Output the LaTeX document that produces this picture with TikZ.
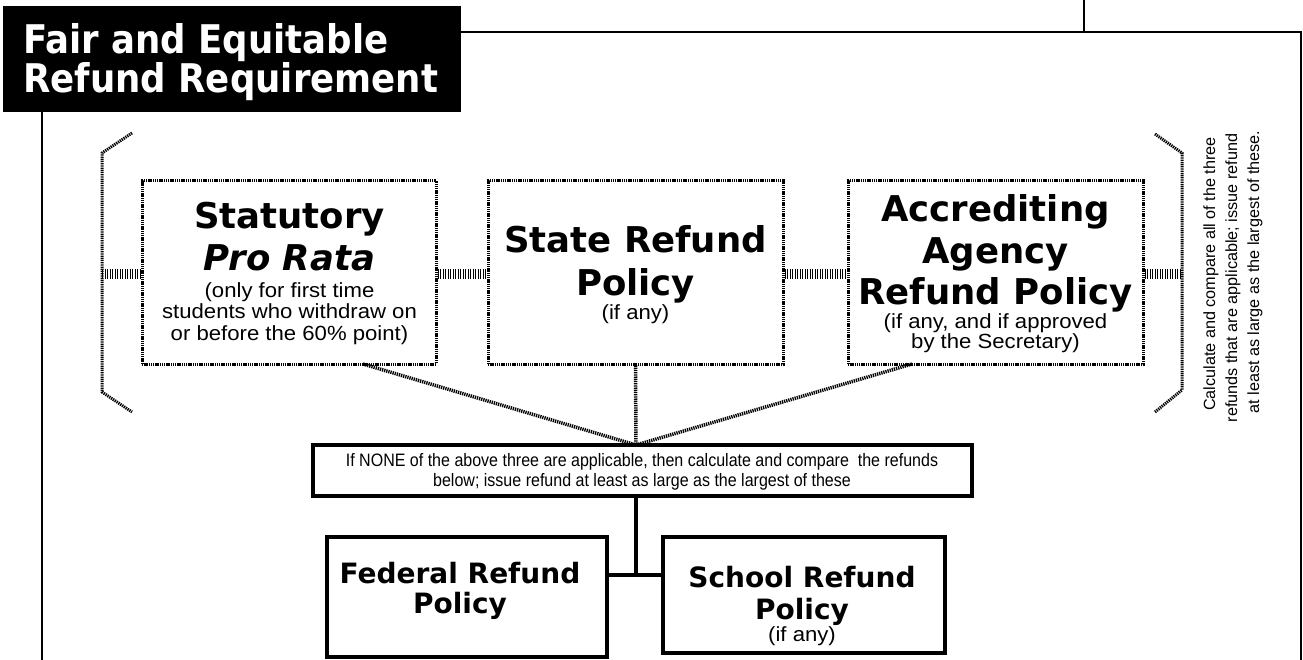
\documentclass[tikz,border=0pt]{standalone}
\usepackage{fontspec}
\setmainfont{Liberation Sans}
\newfontfamily\hvfont{DejaVu Sans}
\newfontfamily\smfont{Liberation Sans}[FakeStretch=1.08]
\newfontfamily\nrfont{Liberation Sans}[FakeStretch=0.89]
\newfontfamily\rtfont{Liberation Sans}
\newfontfamily\ttlfont{DejaVu Sans}[FakeStretch=0.9]
\tikzset{
  dotb/.style={draw, line width=3pt, dash pattern=on 1.4pt off 0.8pt, inner sep=0pt},
  hatchl/.style={line width=10pt, dash pattern=on 1.4pt off 1.1pt},
  dotl/.style={line width=3.5pt, dash pattern=on 1.3pt off 0.9pt},
  solidb/.style={draw, line width=4pt, inner sep=0pt},
  solidl/.style={line width=3.5pt},
  framel/.style={line width=2pt},
  hd/.style={font=\hvfont\bfseries\fontsize{35.5}{40}\selectfont, anchor=base, inner sep=0pt},
  hdit/.style={font=\hvfont\bfseries\itshape\fontsize{35.5}{40}\selectfont, anchor=base, inner sep=0pt},
  hdsm/.style={font=\hvfont\bfseries\fontsize{28}{30}\selectfont, anchor=base, inner sep=0pt},
  sm/.style={font=\smfont\fontsize{20.5}{22}\selectfont, anchor=base, inner sep=0pt},
  nr/.style={font=\nrfont\fontsize{18}{20}\selectfont, anchor=base, inner sep=0pt},
  rt/.style={font=\rtfont\fontsize{16.2}{20}\selectfont, rotate=90, anchor=base, inner sep=0pt},
  ttl/.style={font=\ttlfont\bfseries\fontsize{39.5}{36}\selectfont, align=left, anchor=base west, text=white, inner sep=0pt}
}
\begin{document}
\begin{tikzpicture}[x=1pt, y=-1pt]
\useasboundingbox (0,0) rectangle (1303,660);
\fill[white] (0,0) rectangle (1303,660);
% frame
\node (titlebox) [fill=black, minimum width=458pt, minimum height=106pt, inner sep=0pt, anchor=north west] at (3,6) {};
\coordinate (tr) at (1301,32);
\coordinate (tl) at (461,32);
\coordinate (bl0) at (42,112);
\coordinate (bl1) at (42,660);
\coordinate (br1) at (1301,660);
\coordinate (sv0) at (1084,0);
\coordinate (sv1) at (1084,32);
\draw[framel] (tl) -- (tr) -- (br1);
\draw[framel] (bl0) -- (bl1);
\draw[framel] (sv0) -- (sv1);
\node (title) [ttl] at (23,93) {Fair and Equitable\\Refund Requirement};
% top boxes
\node (stat) [dotb, minimum width=294pt, minimum height=183pt] at (289,272.5) {};
\node (state) [dotb, minimum width=295pt, minimum height=183pt] at (635.5,272.5) {};
\node (acc) [dotb, minimum width=295pt, minimum height=183pt] at (995.5,272.5) {};
% texts
\node (s1) [hd] at (289.5,229) {Statutory};
\node (s2) [hdit] at (289.5,271) {Pro Rata};
\node (s3) [sm] at (289.5,297) {(only for first time};
\node (s4) [sm] at (289.5,318.5) {students who withdraw on};
\node (s5) [sm] at (289.5,340) {or before the 60\% point)};
\node (p1) [hd] at (635.5,253) {State Refund};
\node (p2) [hd] at (635.5,295) {Policy};
\node (p3) [sm] at (635.5,319) {(if any)};
\node (a1) [hd] at (995.5,222) {Accrediting};
\node (a2) [hd] at (995.5,263.5) {Agency};
\node (a3) [hd] at (995.5,305) {Refund Policy};
\node (a4) [sm] at (995.5,328) {(if any, and if approved};
\node (a5) [sm] at (995.5,348.5) {by the Secretary)};
% brackets
\coordinate (lb0) at (132,133);
\coordinate (lb1) at (102,153);
\coordinate (lbm) at (102,274);
\coordinate (lb2) at (102,392);
\coordinate (lb3) at (132,412);
\coordinate (rb0) at (1155,134);
\coordinate (rb1) at (1182,153);
\coordinate (rbm) at (1182,274);
\coordinate (rb2) at (1182,390);
\coordinate (rb3) at (1155,412);
\draw[dotl, line width=3pt] (lb0) -- (lb1) -- (lb2) -- (lb3);
\draw[dotl, line width=3pt] (rb0) -- (rb1) -- (rb2) -- (rb3);
% hatched stubs
\draw[hatchl] (lbm) -- (stat.west |- lbm);
\draw[hatchl] (stat.east |- lbm) -- (state.west |- lbm);
\draw[hatchl] (state.east |- lbm) -- (acc.west |- lbm);
\draw[hatchl] (acc.east |- lbm) -- (rbm);
% right note
\node (r1) [rt] at (1215,274) {Calculate and compare all of the three};
\node (r2) [rt] at (1237,278) {refunds that are applicable; issue refund};
\node (r3) [rt] at (1259,272) {at least as large as the largest of these.};
% lower part
\node (none) [draw, line width=3.5pt, inner sep=0pt, minimum width=659pt, minimum height=51pt] at (642.5,470.5) {};
\node (n1) [nr] at (642,466) {If NONE of the above three are applicable, then calculate and compare\ \ the refunds};
\node (n2) [nr] at (642,486) {below; issue refund at least as large as the largest of these};
\coordinate (apex) at (636,445);
\coordinate (sd) at (363,364);
\coordinate (ad) at (912,364);
\draw[dotl] (sd) -- (apex);
\draw[dotl] (ad) -- (apex);
\draw[dotl] (state.south) -- (apex);
\node (fed) [solidb, minimum width=280pt, minimum height=120pt] at (467,597) {};
\node (school) [solidb, minimum width=282pt, minimum height=116pt] at (804,595) {};
\node (f1) [hdsm] at (460,583) {Federal Refund};
\node (f2) [hdsm] at (460,613) {Policy};
\node (c1) [hdsm] at (802,587) {School Refund};
\node (c2) [hdsm] at (802,619) {Policy};
\node (c3) [sm] at (802,641) {(if any)};
\coordinate (j) at (636,575);
\draw[solidl] (none.south -| j) -- (j);
\draw[solidl] (j -| fed.east) -- (j -| school.west);
\end{tikzpicture}
\end{document}
